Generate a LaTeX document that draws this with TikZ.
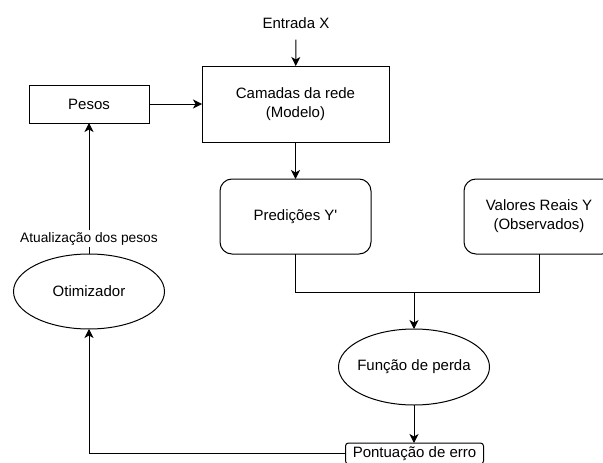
\documentclass[tikz,border=0pt]{standalone}
\usepackage{fontspec}
\setmainfont{Liberation Sans}
\usetikzlibrary{arrows.meta,shapes.geometric}
\begin{document}
\begin{tikzpicture}[x=1pt,y=-1pt,
  every node/.style={font=\fontsize{15}{19}\selectfont, inner sep=0pt, outer sep=0pt},
  line/.style={line width=1pt, draw=black},
  arr/.style={line, -{Stealth[length=9pt,width=9pt,inset=2.5pt]}},
  box/.style={draw, line width=1pt, rectangle, align=center},
  rbox/.style={box, rounded corners=12pt},
  smallbox/.style={box, rounded corners=3pt},
  oval/.style={draw, line width=1pt, ellipse, align=center},
  lbl/.style={fill=white, inner sep=2pt, font=\fontsize{13.75}{17}\selectfont}]
\useasboundingbox (0,0) rectangle (603,463);

% nodes
\node (entrada) at (296,23) {Entrada X};
\node[box, minimum width=187pt, minimum height=76pt] (camadas) at (295.5,104) {Camadas da rede\\(Modelo)};
\node[box, minimum width=120pt, minimum height=38pt] (pesos) at (89,104) {Pesos};
\node[rbox, minimum width=151pt, minimum height=75pt] (predicoes) at (295.5,216.5) {Predições Y\textquotesingle};
\node[rbox, minimum width=150pt, minimum height=75pt] (valores) at (539,216.5) {Valores Reais Y\\(Observados)};
\node[oval, minimum width=151pt, minimum height=76pt] (funcao) at (414,367) {\makebox[60pt]{Função de perda}};
\node[oval, minimum width=151pt, minimum height=75pt] (otimizador) at (89,291.5) {\makebox[60pt]{Otimizador}};
\node[smallbox, minimum width=138pt, minimum height=21pt] (pontuacao) at (414.5,453.5) {Pontuação de erro};
\coordinate (merge) at (414,292);

% connectors
\draw[arr, shorten <=11pt] (entrada) -- (camadas);
\draw[arr] (pesos) -- (camadas);
\draw[arr] (camadas) -- (predicoes);
\draw[line] (predicoes.south) -- (predicoes.south |- merge) -- (valores.south |- merge) -- (valores.south);
\draw[arr] (merge) -- (funcao.north);
\draw[arr] (funcao.south) -- (funcao.south |- pontuacao.north);
\draw[arr] (pontuacao.west) -| (otimizador.south);
\draw[arr] (otimizador.north) -- node[lbl, pos=0.115] {Atualização dos pesos} (pesos.south);
\end{tikzpicture}
\end{document}
